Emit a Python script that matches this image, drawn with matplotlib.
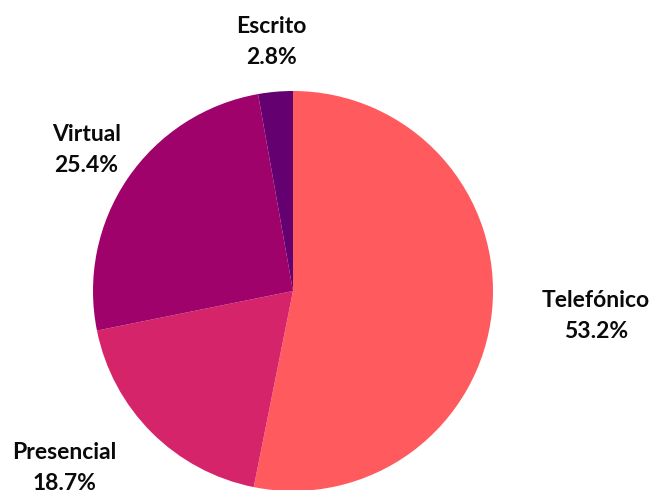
import matplotlib.pyplot as plt

categories = ['Telefónico', 'Presencial', 'Virtual', 'Escrito']
shares = [53.2, 18.7, 25.4, 2.8]
colors = ['#ff5a5e', '#d6246a', '#a0026b', '#640070']
aligns = ['left', 'right', 'center', 'center']

plt.rcParams['font.family'] = ['Lato', 'DejaVu Sans']

fig = plt.figure(figsize=(6.51, 4.90), dpi=100)
ax = fig.add_axes([0, 0, 1, 1])

labels = [f'{c}\n{v}%' for c, v in zip(categories, shares)]
wedges, texts = ax.pie(shares, colors=colors, labels=labels, startangle=90,
                       counterclock=False, center=(293, 199), radius=200,
                       labeldistance=1.25, frame=True,
                       wedgeprops=dict(linewidth=0),
                       textprops=dict(fontsize=16.5, fontweight='bold',
                                      color='#0a0a0a', linespacing=1.6))
for t, ha in zip(texts, aligns):
    t.set_ha(ha)
    t.set_multialignment('center')
ax.axis('off')
ax.set_xlim(0, 651)
ax.set_ylim(0, 490)
ax.set_aspect('equal')

fig.savefig('out.png', dpi=100)
